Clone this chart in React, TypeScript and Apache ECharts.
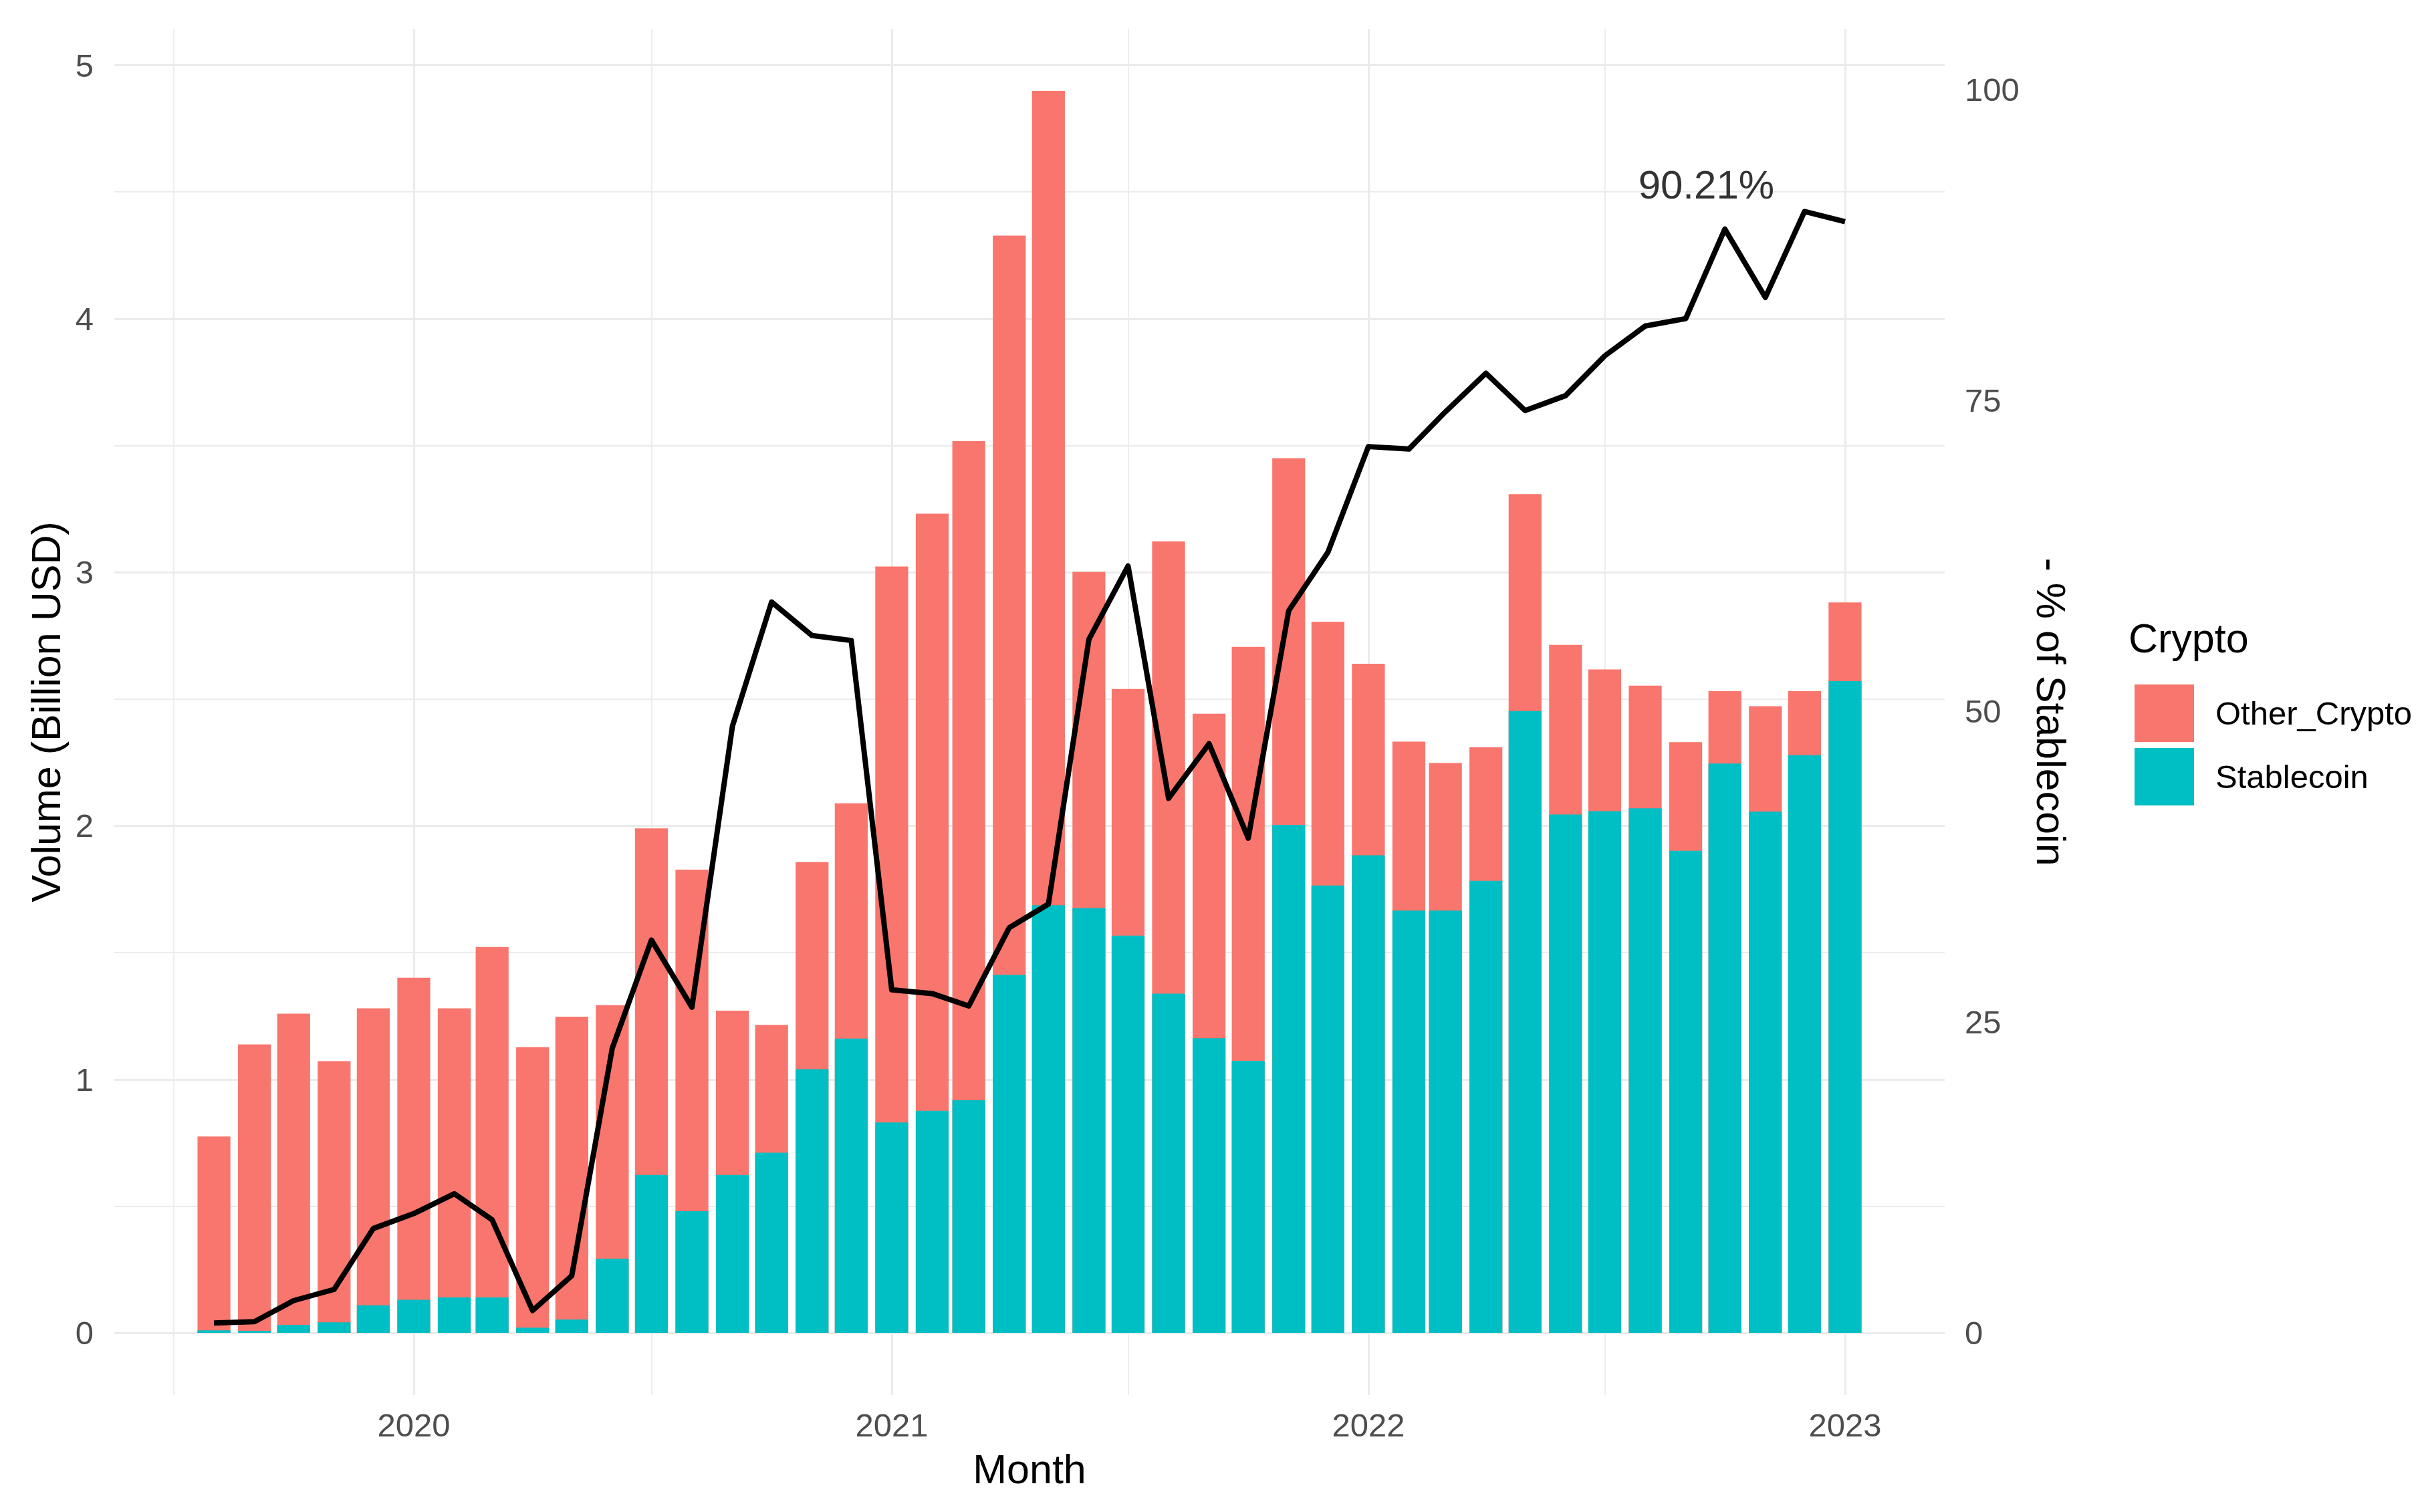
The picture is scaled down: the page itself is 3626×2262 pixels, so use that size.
import React, { useEffect, useRef } from "react";
import * as echarts from "echarts";

const months = [
  "2019-08", "2019-09", "2019-10", "2019-11", "2019-12",
  "2020-01", "2020-02", "2020-03", "2020-04", "2020-05", "2020-06",
  "2020-07", "2020-08", "2020-09", "2020-10", "2020-11", "2020-12",
  "2021-01", "2021-02", "2021-03", "2021-04", "2021-05", "2021-06",
  "2021-07", "2021-08", "2021-09", "2021-10", "2021-11", "2021-12",
  "2022-01", "2022-02", "2022-03", "2022-04", "2022-05", "2022-06",
  "2022-07", "2022-08", "2022-09", "2022-10", "2022-11", "2022-12",
  "2023-01",
];

// total monthly volume (Billion USD) = top of each stacked bar
const totalVolume = [
  0.775, 1.138, 1.259, 1.072, 1.28,
  1.401, 1.28, 1.522, 1.127, 1.247, 1.293,
  1.99, 1.827, 1.271, 1.215, 1.857, 2.089,
  3.023, 3.231, 3.517, 4.328, 4.899, 3.002,
  2.54, 3.122, 2.442, 2.706, 3.45, 2.805,
  2.639, 2.332, 2.248, 2.31, 3.308, 2.714,
  2.617, 2.553, 2.33, 2.531, 2.472, 2.531,
  2.881,
];

// stablecoin volume (Billion USD)
const stablecoinVolume = [
  0.01, 0.008, 0.032, 0.042, 0.109,
  0.131, 0.14, 0.14, 0.021, 0.053, 0.293,
  0.623, 0.48, 0.623, 0.711, 1.04, 1.161,
  0.83, 0.876, 0.918, 1.412, 1.687, 1.676,
  1.567, 1.338, 1.162, 1.073, 2.004, 1.765,
  1.884, 1.666, 1.666, 1.783, 2.453, 2.045,
  2.058, 2.069, 1.902, 2.246, 2.056, 2.279,
  2.571,
];

// % of stablecoin
const stablecoinShare = [
  0.8, 0.9, 2.6, 3.5, 8.4,
  9.6, 11.2, 9.1, 1.8, 4.6, 22.9,
  31.6, 26.2, 48.8, 58.8, 56.1, 55.7,
  27.6, 27.3, 26.3, 32.6, 34.5, 55.8,
  61.7, 43.0, 47.4, 39.8, 58.1, 62.8,
  71.3, 71.1, 74.1, 77.2, 74.2, 75.4,
  78.6, 81.0, 81.6, 88.8, 83.3, 90.21,
  89.4,
];

const seriesNames = ["Other_Crypto", "Stablecoin"];
const leftTicks = [0, 1, 2, 3, 4, 5];
const leftMinorTicks = [0.5, 1.5, 2.5, 3.5, 4.5];
const rightTicks = [0, 25, 50, 75, 100];
const yearTicks = ["2020-01", "2021-01", "2022-01", "2023-01"];
const midYearTicks = ["2019-07", "2020-07", "2021-07", "2022-07"];
const annotationMonth = "2022-12";
const annotationValue = 90.21;
const annotationText = "90.21%";

const FONT = "'Liberation Sans', Arial, Helvetica, sans-serif";
const DAY = 86400000;
const EPOCH = Date.UTC(2020, 0, 1);

// days since 2020-01-01
function dayOf(m: string) {
  const [y, mo] = m.split("-").map(Number);
  return Math.round((Date.UTC(y, mo - 1, 1) - EPOCH) / DAY);
}
function yearOfDay(d: number) {
  return String(new Date(EPOCH + d * DAY).getUTCFullYear());
}

export default function App() {
  const ref = useRef<HTMLDivElement>(null);

  useEffect(() => {
    document.body.style.margin = "0";
    if (!ref.current) return;
    const chart = echarts.init(ref.current, undefined, { renderer: "svg" });

    const W = 3626;
    const gridLeft = 171;
    const gridRight = 717;
    const gridTop = 43;
    const gridBottom = 175;

    const xs = months.map(dayOf);
    const first = xs[0];
    const last = xs[xs.length - 1];
    const barDays = 0.9 * 28;
    const span = last - first + barDays;
    const xMin = first - barDays / 2 - 0.05 * span;
    const xMax = last + barDays / 2 + 0.05 * span;
    const pxPerDay = (W - gridLeft - gridRight) / (xMax - xMin);
    const barWidth = barDays * pxPerDay;

    const maxVol = Math.max(...totalVolume);
    const yMin = -0.05 * maxVol;
    const yMax = maxVol * 1.05;
    const pctFactor = 100 / 4.903;

    const gridColor = "#ebebeb";
    const tickColor = "#4d4d4d";

    const option: any = {
      animation: false,
      textStyle: { fontFamily: FONT },
      grid: { left: gridLeft, right: gridRight, top: gridTop, bottom: gridBottom, containLabel: false },
      legend: {
        data: seriesNames,
        orient: "vertical",
        left: 3188,
        top: 1019,
        itemWidth: 89,
        itemHeight: 86,
        itemGap: 9,
        icon: "rect",
        selectedMode: false,
        textStyle: { fontSize: 49, color: "#000", fontFamily: FONT, padding: [0, 0, 0, 27] },
      },
      graphic: [
        {
          type: "text",
          x: 3184,
          y: 955,
          style: { text: "Crypto", fontSize: 61, fill: "#000", fontFamily: FONT, align: "left", verticalAlign: "middle" },
        },
      ],
      xAxis: [
        {
          type: "value",
          min: xMin,
          max: xMax,
          axisLine: { show: false },
          axisTick: { show: false, customValues: yearTicks.map(dayOf) },
          axisLabel: {
            customValues: yearTicks.map(dayOf),
            formatter: (v: number) => yearOfDay(v),
            color: tickColor,
            fontSize: 49,
            margin: 20,
            fontFamily: FONT,
          },
          splitLine: { show: true, lineStyle: { color: gridColor, width: 3 } },
          name: "Month",
          nameLocation: "middle",
          nameGap: 111,
          nameTextStyle: { fontSize: 61, color: "#000", fontFamily: FONT, verticalAlign: "middle" },
        },
        {
          type: "value",
          min: xMin,
          max: xMax,
          position: "top",
          axisLine: { show: false },
          axisTick: { show: false, customValues: midYearTicks.map(dayOf) },
          axisLabel: { show: false },
          splitLine: { show: true, lineStyle: { color: gridColor, width: 1.8 } },
        },
      ],
      yAxis: [
        {
          type: "value",
          min: yMin,
          max: yMax,
          position: "left",
          axisLine: { show: false },
          axisTick: { show: false, customValues: leftTicks },
          axisLabel: {
            customValues: leftTicks,
            formatter: (v: number) => String(v),
            color: tickColor,
            fontSize: 49,
            margin: 31,
            fontFamily: FONT,
          },
          splitLine: { show: true, lineStyle: { color: gridColor, width: 3 } },
          name: "Volume (Billion USD)",
          nameLocation: "middle",
          nameRotate: 90,
          nameGap: 102,
          nameTextStyle: { fontSize: 61, color: "#000", fontFamily: FONT, verticalAlign: "middle" },
        },
        {
          type: "value",
          min: yMin,
          max: yMax,
          position: "left",
          axisLine: { show: false },
          axisTick: { show: false, customValues: leftMinorTicks },
          axisLabel: { show: false },
          splitLine: { show: true, lineStyle: { color: gridColor, width: 1.8 } },
        },
        {
          type: "value",
          min: yMin * pctFactor,
          max: yMax * pctFactor,
          position: "right",
          axisLine: { show: false },
          axisTick: { show: false, customValues: rightTicks },
          axisLabel: {
            customValues: rightTicks,
            formatter: (v: number) => String(v),
            color: tickColor,
            fontSize: 49,
            margin: 30,
            fontFamily: FONT,
          },
          splitLine: { show: false },
          name: "- % of Stablecoin",
          nameLocation: "middle",
          nameRotate: -90,
          nameGap: 159,
          nameTextStyle: { fontSize: 61, color: "#000", fontFamily: FONT, verticalAlign: "middle" },
        },
      ],
      series: [
        {
          // upper (Other_Crypto) segment: drawn as full-height bar, stablecoin part overlaid below
          name: "Other_Crypto",
          type: "bar",
          xAxisIndex: 0,
          yAxisIndex: 0,
          barWidth,
          barGap: "-100%",
          itemStyle: { color: "#F8766D" },
          data: xs.map((x, i) => [x, totalVolume[i]]),
        },
        {
          name: "Stablecoin",
          type: "bar",
          xAxisIndex: 0,
          yAxisIndex: 0,
          barWidth,
          barGap: "-100%",
          itemStyle: { color: "#00BFC4" },
          data: xs.map((x, i) => [x, stablecoinVolume[i]]),
        },
        {
          name: "share",
          type: "line",
          xAxisIndex: 0,
          yAxisIndex: 2,
          symbol: "none",
          showSymbol: false,
          z: 5,
          lineStyle: { color: "#000", width: 8, join: "round" },
          data: xs.map((x, i) => [x, stablecoinShare[i]]),
        },
        {
          name: "annotation",
          type: "scatter",
          xAxisIndex: 0,
          yAxisIndex: 2,
          symbolSize: 1,
          z: 6,
          itemStyle: { color: "rgba(0,0,0,0)" },
          label: {
            show: true,
            formatter: annotationText,
            position: "inside",
            offset: [-147, -40],
            align: "center",
            verticalAlign: "middle",
            fontSize: 60,
            color: "#000",
            fontFamily: FONT,
          },
          data: [[dayOf(annotationMonth), annotationValue]],
        },
      ],
    };

    chart.setOption(option);
    return () => chart.dispose();
  }, []);

  return <div ref={ref} style={{ width: 3626, height: 2262 }} />;
}
